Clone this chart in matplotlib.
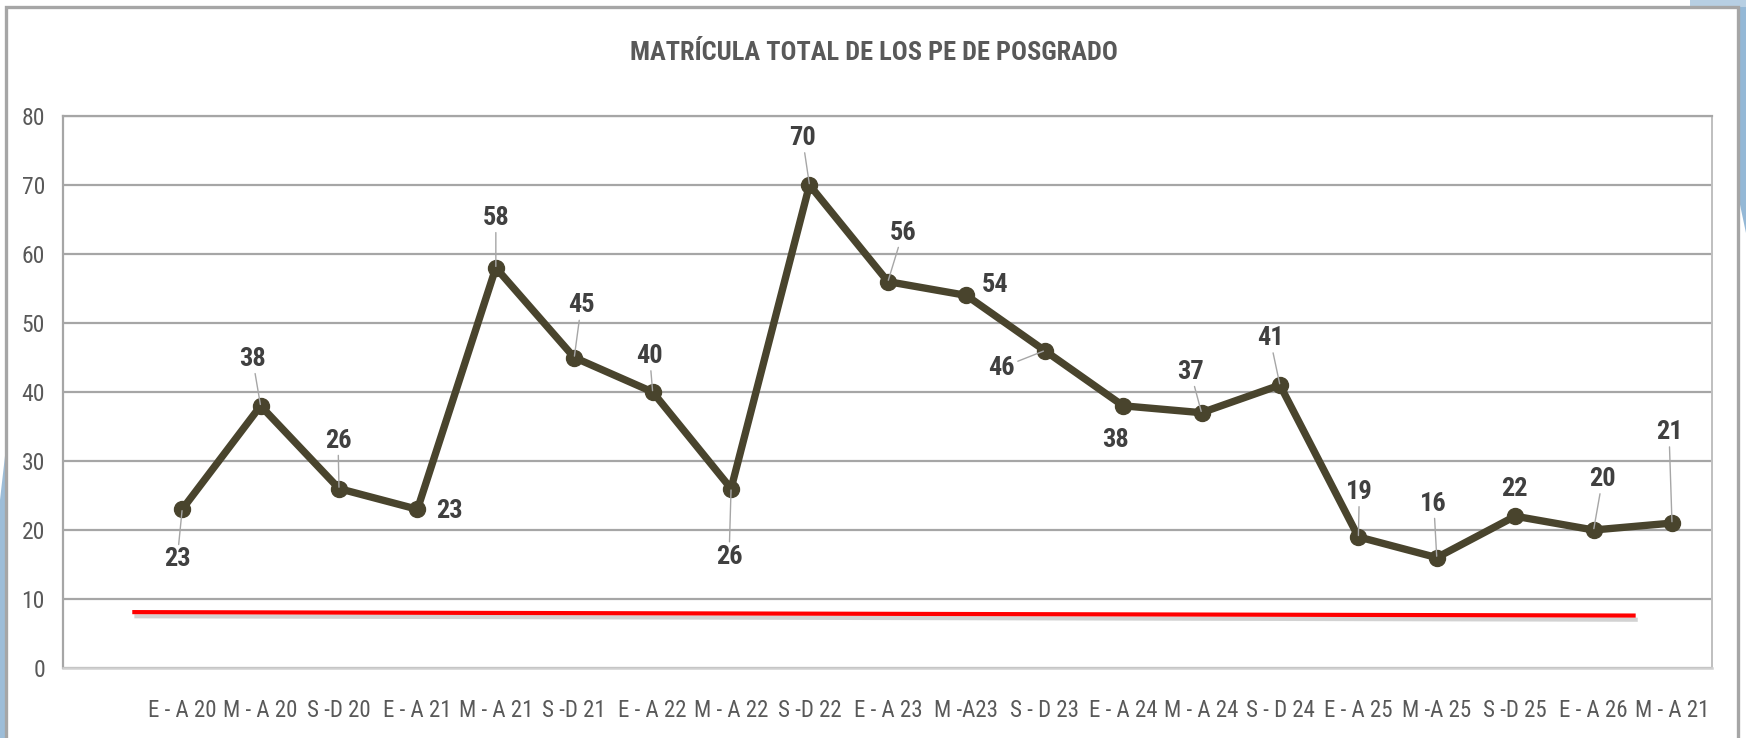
import matplotlib
matplotlib.use("Agg")
import matplotlib.pyplot as plt
import matplotlib.patheffects as pe
from matplotlib import font_manager
from matplotlib.patches import Rectangle, Polygon

# ---------------- data ----------------
categories = ["E - A 20", "M - A 20", "S -D 20", "E - A 21", "M - A 21", "S -D 21",
              "E - A 22", "M - A 22", "S -D 22", "E - A 23", "M -A23", "S - D 23",
              "E - A 24", "M - A 24", "S - D 24", "E - A 25", "M -A 25", "S -D 25",
              "E - A 26", "M - A 21"]
values = [23, 38, 26, 23, 58, 45, 40, 26, 70, 56, 54, 46, 38, 37, 41, 19, 16, 22, 20, 21]
yticks = [0, 10, 20, 30, 40, 50, 60, 70, 80]
title = "MATRÍCULA TOTAL DE LOS PE DE POSGRADO"
# reference (red) line endpoints, in category / value units
ref_x = [-0.61, 18.51]
ref_y = [8.1, 7.6]

# label offsets (pixels, x right, y down) and whether a leader line is drawn
label_offsets = [(-5, 50), (-8, -47), (-1, -48), (32, 2), (0, -50), (7, -52),
                 (-3, -36), (-2, 68), (-7, -47), (15, -49), (29, -10), (-43, 17),
                 (-8, 34), (-11, -41), (-10, -47), (1, -45), (-3, -54), (-1, -27),
                 (9, -51), (-3, -91)]
leaders = [True, True, True, False, True, True, True, True, True, True, False, True,
           False, True, True, True, True, False, True, True]

# ---------------- fonts ----------------
flist = font_manager.fontManager.ttflist
names = {f.name for f in flist}
narrow = [f for f in flist if ("narrow" in f.fname.lower() or "condensed" in f.fname.lower()
                               or f.stretch in ("condensed", "semi-condensed", 600, 500)
                               or (isinstance(f.stretch, int) and f.stretch < 500))]
narrow_names = [f.name for f in narrow]
base_font = None
stretch = "normal"
for cand in ["Liberation Sans Narrow", "Roboto Condensed", "Open Sans Condensed",
             "Noto Sans Condensed", "Arial Narrow"]:
    if cand in names:
        base_font = cand
        break
if base_font is None:
    for cand in ["Open Sans", "Noto Sans", "Roboto", "DejaVu Sans", "Lato", "Inter"]:
        if cand in narrow_names:
            base_font = cand
            stretch = "condensed"
            break
if base_font is None:
    base_font = "DejaVu Sans"
    scale = 0.86
else:
    scale = 1.0
plt.rcParams["font.family"] = [base_font, "DejaVu Sans"]
plt.rcParams["font.stretch"] = stretch

W, H = 1746, 738
fig = plt.figure(figsize=(W / 100, H / 100), dpi=100)
fig.patch.set_facecolor("white")

# decorative blue background pieces
fig.patches.append(Polygon([(0, 0), (6 / W, 0), (6 / W, 1 - 447 / H), (0, 1 - 500 / H)],
                           closed=True, transform=fig.transFigure, facecolor="#9dbdd8",
                           edgecolor="none", zorder=0))
fig.patches.append(Polygon([(1739 / W, 1), (1, 1), (1, 1 - 233 / H), (1739 / W, 1 - 200 / H)],
                           closed=True, transform=fig.transFigure, facecolor="#94b8d6",
                           edgecolor="none", zorder=0))
fig.patches.append(Rectangle((1690 / W, 1 - 7 / H), 56 / W, 7 / H, transform=fig.transFigure,
                             facecolor="#b7cfe3", edgecolor="none", zorder=0))
# chart frame
fig.patches.append(Rectangle((6 / W, -0.05), (1738 - 6) / W, 1.05 - 7 / H,
                             transform=fig.transFigure, facecolor="none",
                             edgecolor="#a6a6a6", linewidth=2.4, zorder=1))

left, right = 63 / W, 1712 / W
bottom, top = 1 - 668 / H, 1 - 116 / H
ax = fig.add_axes([left, bottom, right - left, top - bottom])
ax.set_facecolor("white")

x = list(range(len(values)))
ax.set_xlim(-1.52, 19.51)
ax.set_ylim(0, 80)

ax.set_yticks(yticks)
ax.set_xticks(x)
ax.set_xticklabels(categories)
ax.tick_params(axis="y", length=0, pad=13, labelsize=17 * scale, labelcolor="#595959")
ax.tick_params(axis="x", length=0, pad=22, labelsize=16.5 * scale, labelcolor="#595959")

ax.grid(axis="y", color="#a6a6a6", linewidth=1.6)
ax.set_axisbelow(True)
for s in ["left", "top"]:
    ax.spines[s].set_color("#a6a6a6")
    ax.spines[s].set_linewidth(1.6)
ax.spines["right"].set_color("#bfbfbf")
ax.spines["right"].set_linewidth(1.4)
ax.spines["bottom"].set_color("#d0d0d0")
ax.spines["bottom"].set_linewidth(1.8)

line_color = "#49442d"
ax.plot(x, values, color=line_color, linewidth=5.3, marker="o", markersize=11.5,
        markerfacecolor=line_color, markeredgecolor=line_color, zorder=4,
        solid_joinstyle="round")

ax.plot(ref_x, ref_y, color="#ff0000", linewidth=3.0, zorder=3,
        path_effects=[pe.SimpleLineShadow(offset=(1.5, -3), shadow_color="#808080", alpha=0.35),
                      pe.Normal()])

for xi, v, (dx, dy), lead in zip(x, values, label_offsets, leaders):
    kw = {}
    if lead:
        kw["arrowprops"] = dict(arrowstyle="-", color="#a6a6a6", linewidth=1.0,
                                shrinkA=0, shrinkB=1)
    ax.annotate(str(v), xy=(xi, v), xytext=(dx, -dy), textcoords="offset pixels",
                ha="center", va="center", fontsize=19 * scale, fontweight="bold",
                color="#404040", zorder=5, annotation_clip=False, **kw)

fig.text(874 / W, 1 - 53 / H, title, ha="center", va="center", fontsize=19 * scale,
         fontweight="bold", color="#595959")

fig.savefig("out.png", dpi=100, facecolor="white")
